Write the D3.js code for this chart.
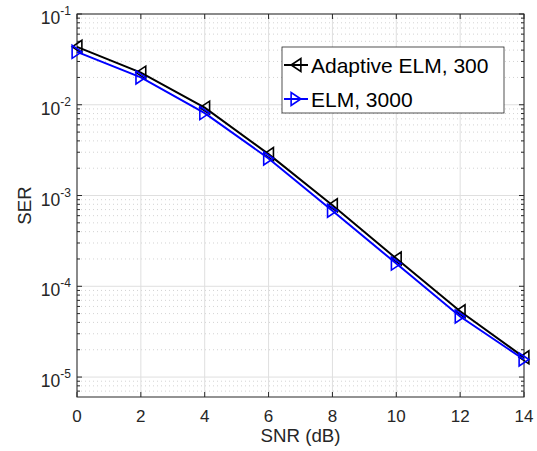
<!DOCTYPE html>
<html>
<head>
<meta charset="utf-8">
<script src="https://cdn.jsdelivr.net/npm/d3@7"></script>
<style>
  body { margin: 0; background: #fff; }
  svg { display: block; font-family: "Liberation Sans", Arial, sans-serif; }
</style>
</head>
<body>
<svg id="main"></svg>
<script>
const width = 537;
const height = 451;

// data ------------------------------------------------------------
const snr = [0, 2, 4, 6, 8, 10, 12, 14];
const serAdaptive = [0.0435, 0.0226, 0.0093, 0.00286, 7.8e-4, 2.02e-4, 5.3e-5, 1.65e-5];
const serElm = [0.0383, 0.0200, 0.0081, 0.00256, 6.8e-4, 1.78e-4, 4.65e-5, 1.56e-5];
const seriesNames = ['Adaptive ELM, 300', 'ELM, 3000'];
const xTicks = [0, 2, 4, 6, 8, 10, 12, 14];
const yDecades = [-1, -2, -3, -4, -5];

const margin = { left: 77, right: 13, top: 14, bottom: 54 };
const axisColor = '#262626';

const svg = d3.select('svg#main')
    .attr('width', width)
    .attr('height', height);

const x = d3.scaleLinear()
    .domain([0, 14])
    .range([margin.left, width - margin.right]);

const y = d3.scaleLog()
    .domain([6.03e-6, 0.1])
    .range([height - margin.bottom, margin.top]);

const x0 = x.range()[0], x1 = x.range()[1];
const yb = y.range()[0], yt = y.range()[1];

// grid ------------------------------------------------------------
const minorVals = [];
for (let e = -6; e <= -2; e++) {
    for (let m = 2; m <= 9; m++) {
        const v = m * Math.pow(10, e);
        if (v >= y.domain()[0] && v <= y.domain()[1]) minorVals.push(v);
    }
}

const grid = svg.append('g');
grid.selectAll('.minor')
    .data(minorVals).enter()
    .append('line')
    .attr('x1', x0).attr('x2', x1)
    .attr('y1', d => y(d)).attr('y2', d => y(d))
    .attr('stroke', '#c8c8c8')
    .attr('stroke-width', 0.8)
    .attr('stroke-dasharray', '1,3');

grid.selectAll('.majy')
    .data(yDecades).enter()
    .append('line')
    .attr('x1', x0).attr('x2', x1)
    .attr('y1', d => y(Math.pow(10, d))).attr('y2', d => y(Math.pow(10, d)))
    .attr('stroke', '#dfdfdf')
    .attr('stroke-width', 1);

grid.selectAll('.majx')
    .data(xTicks).enter()
    .append('line')
    .attr('x1', d => x(d)).attr('x2', d => x(d))
    .attr('y1', yt).attr('y2', yb)
    .attr('stroke', '#dfdfdf')
    .attr('stroke-width', 1);

// ticks -----------------------------------------------------------
const ticks = svg.append('g').attr('stroke', axisColor).attr('stroke-width', 1);
xTicks.forEach(t => {
    ticks.append('line').attr('x1', x(t)).attr('x2', x(t)).attr('y1', yb).attr('y2', yb - 5);
    ticks.append('line').attr('x1', x(t)).attr('x2', x(t)).attr('y1', yt).attr('y2', yt + 5);
});
yDecades.forEach(d => {
    const yy = y(Math.pow(10, d));
    ticks.append('line').attr('x1', x0).attr('x2', x0 + 5).attr('y1', yy).attr('y2', yy);
    ticks.append('line').attr('x1', x1).attr('x2', x1 - 5).attr('y1', yy).attr('y2', yy);
});
minorVals.forEach(v => {
    const yy = y(v);
    ticks.append('line').attr('x1', x0).attr('x2', x0 + 3).attr('y1', yy).attr('y2', yy);
    ticks.append('line').attr('x1', x1).attr('x2', x1 - 3).attr('y1', yy).attr('y2', yy);
});

svg.append('rect')
    .attr('x', x0).attr('y', yt)
    .attr('width', x1 - x0).attr('height', yb - yt)
    .attr('fill', 'none')
    .attr('stroke', axisColor)
    .attr('stroke-width', 1);

// tick labels -----------------------------------------------------
svg.selectAll('.xlab')
    .data(xTicks).enter()
    .append('text')
    .attr('x', d => x(d))
    .attr('y', yb + 25)
    .attr('text-anchor', 'middle')
    .attr('font-size', 17)
    .attr('fill', axisColor)
    .text(d => d);

yDecades.forEach(d => {
    const t = svg.append('text')
        .attr('x', x0 - 6)
        .attr('y', y(Math.pow(10, d)) + 10)
        .attr('text-anchor', 'end')
        .attr('font-size', 17.5)
        .attr('fill', axisColor);
    t.append('tspan').text('10');
    t.append('tspan')
        .attr('font-size', 12)
        .attr('dy', -9)
        .text(d);
});

svg.append('text')
    .attr('x', (x0 + x1) / 2)
    .attr('y', height - 9)
    .attr('text-anchor', 'middle')
    .attr('font-size', 18.7)
    .attr('fill', axisColor)
    .text('SNR (dB)');

svg.append('text')
    .attr('transform', `translate(31 ${(yt + yb) / 2}) rotate(-90)`)
    .attr('text-anchor', 'middle')
    .attr('font-size', 18.7)
    .attr('fill', axisColor)
    .text('SER');

// lines + markers -------------------------------------------------
const series = [
    { name: seriesNames[0], values: serAdaptive, color: '#000000', dir: 'left' },
    { name: seriesNames[1], values: serElm, color: '#0000ff', dir: 'right' },
];

function triangle(dir, s) {
    // s: half size
    if (dir === 'left') return `M${-s * 0.75},0 L${s * 0.75},${-s} L${s * 0.75},${s} Z`;
    return `M${s * 0.75},0 L${-s * 0.75},${-s} L${-s * 0.75},${s} Z`;
}

const line = d3.line()
    .x(d => x(d[0]))
    .y(d => y(d[1]));

series.forEach(s => {
    const pts = snr.map((v, i) => [v, s.values[i]]);
    svg.append('path')
        .datum(pts)
        .attr('d', line)
        .attr('fill', 'none')
        .attr('stroke', s.color)
        .attr('stroke-width', 2);
    svg.selectAll(null)
        .data(pts).enter()
        .append('path')
        .attr('d', triangle(s.dir, 6.5))
        .attr('transform', d => `translate(${x(d[0])} ${y(d[1])})`)
        .attr('fill', 'none')
        .attr('stroke', s.color)
        .attr('stroke-width', 1.6);
});

// legend ----------------------------------------------------------
const legend = svg.append('g');
legend.append('rect')
    .attr('x', 282).attr('y', 47)
    .attr('width', 222).attr('height', 66)
    .attr('fill', '#fff')
    .attr('stroke', '#262626')
    .attr('stroke-width', 0.8);

series.forEach((s, i) => {
    const cy = 65 + i * 34;
    legend.append('line')
        .attr('x1', 284).attr('x2', 308)
        .attr('y1', cy).attr('y2', cy)
        .attr('stroke', s.color)
        .attr('stroke-width', 2);
    legend.append('path')
        .attr('d', triangle(s.dir, 6.5))
        .attr('transform', `translate(296 ${cy})`)
        .attr('fill', 'none')
        .attr('stroke', s.color)
        .attr('stroke-width', 1.6);
    legend.append('text')
        .attr('x', 311)
        .attr('y', cy + 7.5)
        .attr('font-size', 21)
        .attr('fill', '#000')
        .text(s.name);
});
</script>
</body>
</html>
